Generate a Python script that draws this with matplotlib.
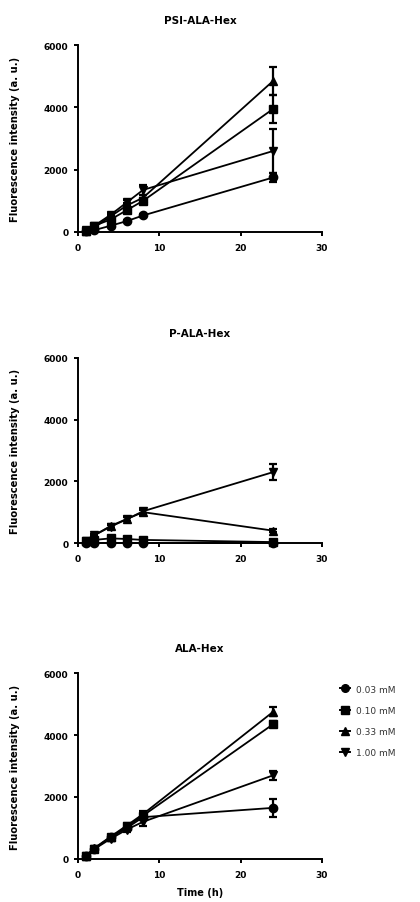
import matplotlib
matplotlib.use("Agg")
import matplotlib.pyplot as plt
from matplotlib.lines import Line2D

plt.rcParams['font.family'] = ['DejaVu Sans']

time_h = [1, 2, 4, 6, 8, 24]
conc_labels = ["0.03 mM", "0.10 mM", "0.33 mM", "1.00 mM"]
markers = ["o", "s", "^", "v"]

# PSI-ALA-Hex
psi_mean = [
    [20, 60, 200, 350, 530, 1750],
    [40, 200, 400, 700, 1000, 3950],
    [30, 150, 500, 850, 1100, 4850],
    [50, 200, 550, 950, 1350, 2600],
]
psi_err = [
    [10, 20, 30, 40, 50, 150],
    [10, 30, 40, 60, 80, 450],
    [10, 30, 50, 70, 100, 450],
    [10, 30, 60, 80, 150, 700],
]

# P-ALA-Hex
p_mean = [
    [10, 10, 10, 10, 10, 10],
    [50, 100, 150, 130, 100, 30],
    [80, 250, 550, 780, 1000, 400],
    [80, 250, 530, 770, 1030, 2300],
]
p_err = [
    [5, 5, 5, 5, 5, 5],
    [10, 20, 30, 30, 20, 10],
    [10, 30, 60, 60, 80, 40],
    [10, 40, 60, 70, 80, 250],
]

# ALA-Hex
ala_mean = [
    [100, 330, 700, 1000, 1350, 1650],
    [100, 330, 700, 1050, 1400, 4350],
    [100, 350, 720, 1080, 1450, 4750],
    [100, 320, 650, 950, 1200, 2700],
]
ala_err = [
    [20, 40, 60, 80, 100, 280],
    [20, 40, 60, 80, 100, 100],
    [20, 40, 60, 80, 100, 150],
    [20, 40, 60, 80, 120, 150],
]

titles = ["PSI-ALA-Hex", "P-ALA-Hex", "ALA-Hex"]
means = [psi_mean, p_mean, ala_mean]
errs = [psi_err, p_err, ala_err]

W, H = 420, 903
fig = plt.figure(figsize=(W / 100, H / 100), dpi=100)

# (top, bottom) of each axes in pixels
boxes = [(46, 233), (359, 544), (674, 860)]
left_px, right_px = 78, 322

axes = []
for (top, bot), title, m, e in zip(boxes, titles, means, errs):
    ax = fig.add_axes([left_px / W, (H - bot) / H, (right_px - left_px) / W, (bot - top) / H])
    for i in range(4):
        ax.errorbar(time_h, m[i], yerr=e[i], color="black", marker=markers[i],
                    ms=6, lw=1.3, elinewidth=1.6, capsize=2.8, capthick=1.6,
                    clip_on=False)
    ax.set_xlim(0, 30)
    ax.set_ylim(0, 6000)
    ax.set_xticks([0, 10, 20, 30])
    ax.set_yticks([0, 2000, 4000, 6000])
    for s in ["top", "right"]:
        ax.spines[s].set_visible(False)
    for s in ["left", "bottom"]:
        ax.spines[s].set_linewidth(1.4)
    ax.tick_params(direction="out", length=3, width=1.4, labelsize=6.5)
    ax.tick_params(axis="x", pad=5)
    ax.tick_params(axis="y", pad=4)
    for lab in ax.get_xticklabels() + ax.get_yticklabels():
        lab.set_fontweight("bold")
    ax.set_title(title, fontsize=7.5, fontweight="bold", pad=16)
    ax.set_ylabel("Fluorescence intensity (a. u.)", fontsize=7.2, fontweight="bold")
    ax.yaxis.set_label_coords((20 - left_px) / (right_px - left_px), 0.5)
    axes.append(ax)

axes[2].set_xlabel("Time (h)", fontsize=7, fontweight="bold")
axes[2].xaxis.set_label_coords(0.5, -(888 - 860) / (860 - 674))

handles = [Line2D([0], [0], color="black", marker=mk, ms=5.5, lw=1.4) for mk in markers]
fig.legend(handles, conc_labels, loc="upper left", bbox_to_anchor=(336 / W, 1 - 682 / H),
           frameon=False, fontsize=6.5, handlelength=1.1, handletextpad=0.7,
           labelspacing=1.35, borderaxespad=0, labelcolor="#333333")

fig.savefig("out.png", dpi=100)
